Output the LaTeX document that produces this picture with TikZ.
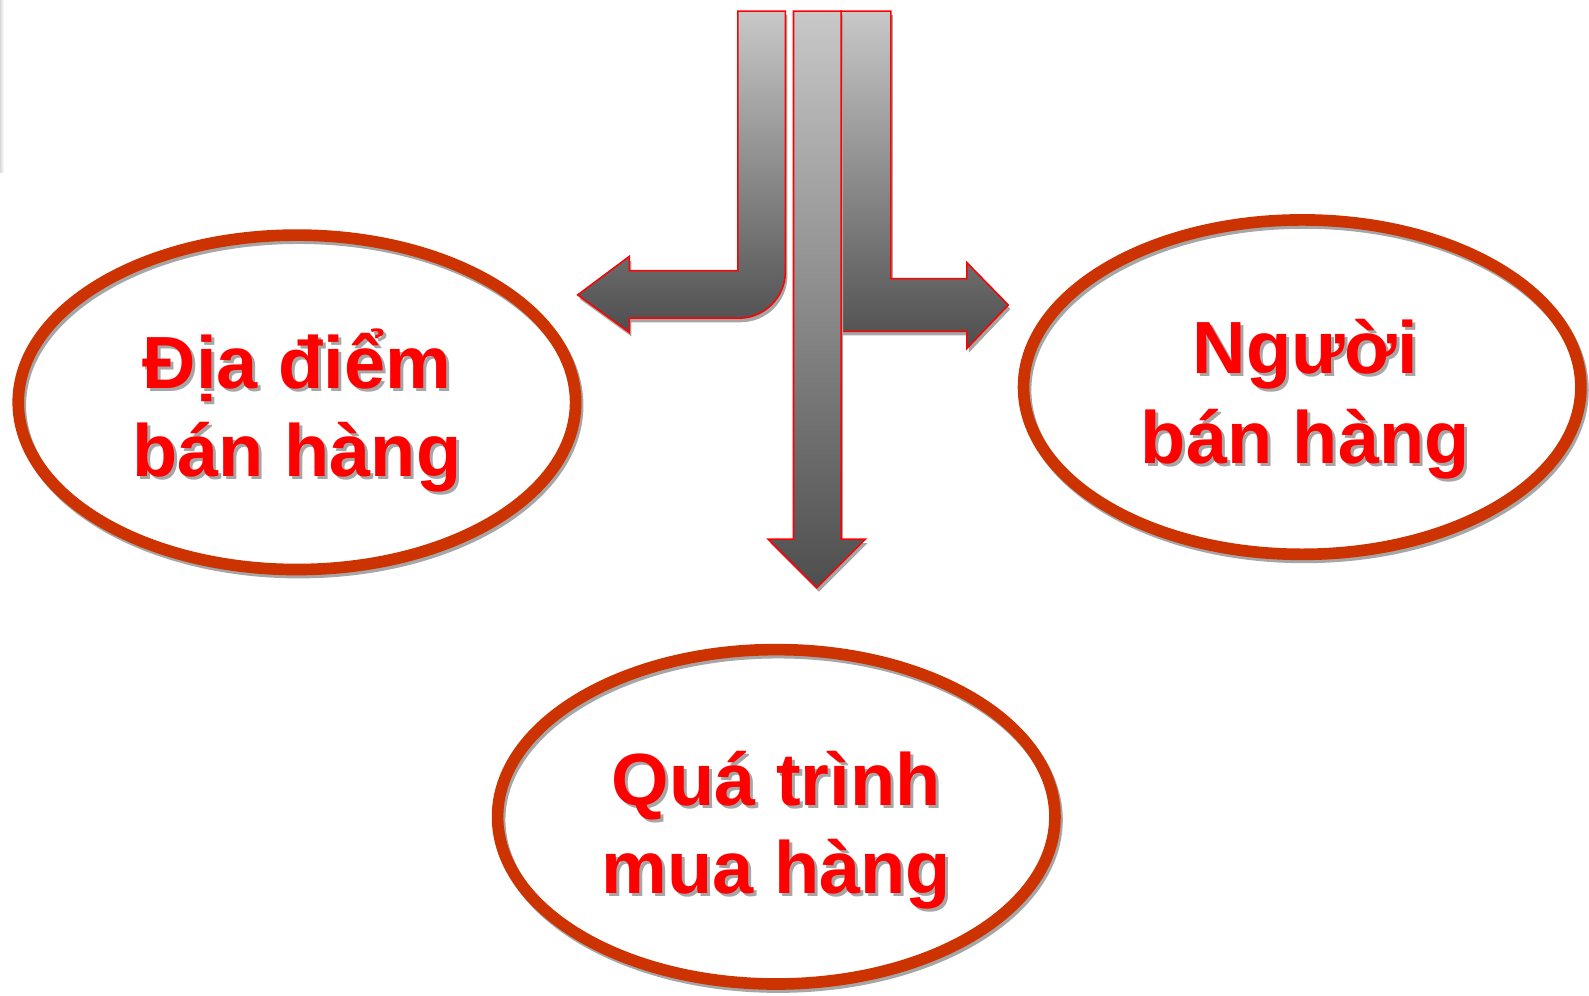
\documentclass[tikz,border=0pt]{standalone}
\usepackage{fontspec}
\setmainfont{Liberation Sans}
\usetikzlibrary{shapes.geometric}
\definecolor{ringred}{HTML}{CC3300}
\definecolor{txtred}{HTML}{FF0000}
\definecolor{shadowgray}{HTML}{A6A6A6}
\definecolor{arrtop}{HTML}{C8C8C8}
\definecolor{arrbot}{HTML}{4E4E4E}
\tikzset{
  ring/.style={ellipse, draw=ringred, line width=11.5pt, minimum width=550pt, minimum height=330pt, inner sep=0pt},
  ringshadow/.style={ellipse, draw=shadowgray, line width=11.5pt, minimum width=550pt, minimum height=330pt, inner sep=0pt},
  lbl/.style={font=\fontsize{73}{87}\selectfont\bfseries, text=txtred, anchor=base, inner sep=0pt},
  lblshadow/.style={font=\fontsize{73}{87}\selectfont\bfseries, text=shadowgray, anchor=base, inner sep=0pt},
  arrowbody/.style={draw=red, line width=1.5pt, top color=arrtop, bottom color=arrbot, line join=miter},
  arrowshadow/.style={fill=shadowgray, draw=none}
}
\begin{document}
\begin{tikzpicture}[x=1pt,y=-1pt]
\useasboundingbox (0,0) rectangle (1568,982);
% faint edge at top-left
\fill[left color=gray!30, right color=white] (0,0) rectangle (4,170);

% ---- ellipses ----
\node[ringshadow] (s1) at (295,400) {};
\node[ring] (e1) at (293,397) {};
\node[ringshadow] (s2) at (1287,385) {};
\node[ring] (e2) at (1285,382) {};
\node[ringshadow] (s3) at (768,809) {};
\node[ring] (e3) at (766,806) {};

% ---- arrows ----
% left bent arrow
\fill[arrowshadow, shift={(2,4)}] (728,11) -- (775,11) -- (775,268) .. controls (775,293.4) and (754.4,314) .. (729,314) -- (621,314) -- (621,328) -- (570,291) -- (621,253) -- (621,267) -- (728,267) -- cycle;
\path[arrowbody] (728,11) coordinate (la) -- (775,11) -- (775,268) .. controls (775,293.4) and (754.4,314) .. (729,314) -- (621,314) -- (621,328) -- (570,291) coordinate (ltip) -- (621,253) -- (621,267) -- (728,267) -- cycle;
% right bent arrow
\fill[arrowshadow, shift={(2,4)}] (830,11) -- (879,11) -- (879,275) -- (954,275) -- (954,259) -- (995,301) -- (954,344) -- (954,327) -- (830,327) -- cycle;
\path[arrowbody] (830,11) coordinate (ra) -- (879,11) -- (879,275) -- (954,275) -- (954,259) -- (995,301) coordinate (rtip) -- (954,344) -- (954,327) -- (830,327) -- cycle;
% middle down arrow
\fill[arrowshadow, shift={(2,4)}] (783,11) -- (830,11) -- (830,532) -- (854,532) -- (806,580) -- (758,532) -- (783,532) -- cycle;
\path[arrowbody] (783,11) coordinate (ma) -- (830,11) -- (830,532) -- (854,532) -- (806,580) coordinate (mtip) -- (758,532) -- (783,532) -- cycle;

% ---- labels ----
\node[lblshadow] (t1as) at (296,386) {Địa điểm};
\node[lbl] (t1a) at (293,383) {Địa điểm};
\node[lblshadow] (t1bs) at (296,473) {bán hàng};
\node[lbl] (t1b) at (293,470) {bán hàng};

\node[lblshadow] (t2as) at (1291,372) {Người};
\node[lbl] (t2a) at (1288,369) {Người};
\node[lblshadow] (t2bs) at (1291,460) {bán hàng};
\node[lbl] (t2b) at (1288,457) {bán hàng};

\node[lblshadow] (t3as) at (769,798) {Quá trình};
\node[lbl] (t3a) at (766,795) {Quá trình};
\node[lblshadow] (t3bs) at (769,885) {mua hàng};
\node[lbl] (t3b) at (766,882) {mua hàng};
\end{tikzpicture}
\end{document}
